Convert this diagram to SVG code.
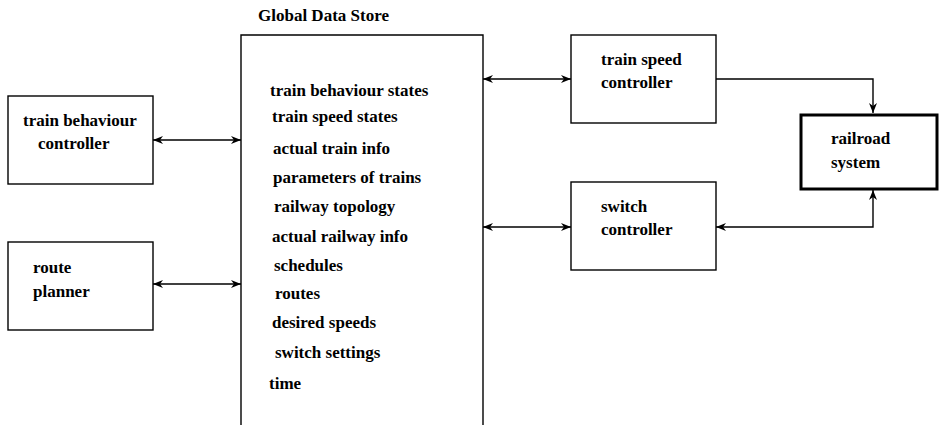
<svg xmlns="http://www.w3.org/2000/svg" width="939" height="425" viewBox="0 0 939 425">
<style>
text{font-family:"Liberation Serif","Times New Roman",serif;font-weight:bold;font-size:17px;fill:#000}
.box{fill:none;stroke:#000;stroke-width:1.4}
.thick{fill:none;stroke:#000;stroke-width:3}
.conn{fill:none;stroke:#000;stroke-width:1.4}
</style>
<defs>
<marker id="ah" viewBox="0 0 10 8" refX="10" refY="4" markerWidth="10" markerHeight="8" markerUnits="userSpaceOnUse" orient="auto-start-reverse">
<path d="M0,0 L10,4 L0,8 L3,4 Z" fill="#000"/>
</marker>
</defs>
<rect width="939" height="425" fill="#fff"/>
<g id="global-data-store">
<text x="258" y="21">Global Data Store</text>
<path class="box" d="M241,425 V35 H483 V425"/>
<text x="270" y="96">train behaviour states</text>
<text x="272" y="122">train speed states</text>
<text x="273" y="154">actual train info</text>
<text x="273" y="183">parameters of trains</text>
<text x="274" y="212">railway topology</text>
<text x="272" y="242">actual railway info</text>
<text x="274" y="271">schedules</text>
<text x="275" y="299">routes</text>
<text x="272" y="328">desired speeds</text>
<text x="275" y="358">switch settings</text>
<text x="269" y="389">time</text>
</g>
<g id="train-behaviour-controller">
<rect class="box" x="8" y="96" width="145" height="88"/>
<text x="23" y="126">train behaviour</text>
<text x="38" y="149">controller</text>
</g>
<g id="route-planner">
<rect class="box" x="8" y="242" width="145" height="88"/>
<text x="33" y="273">route</text>
<text x="33" y="297">planner</text>
</g>
<g id="train-speed-controller">
<rect class="box" x="571" y="35" width="145" height="88"/>
<text x="601" y="65">train speed</text>
<text x="601" y="88">controller</text>
</g>
<g id="switch-controller">
<rect class="box" x="571" y="182" width="145" height="88"/>
<text x="601" y="212">switch</text>
<text x="601" y="235">controller</text>
</g>
<g id="railroad-system">
<rect class="thick" x="801" y="115" width="136" height="74"/>
<text x="831" y="144">railroad</text>
<text x="831" y="168">system</text>
</g>
<g id="connectors">
<line class="conn" x1="153" y1="140" x2="241" y2="140" marker-start="url(#ah)" marker-end="url(#ah)"/>
<line class="conn" x1="153" y1="284" x2="241" y2="284" marker-start="url(#ah)" marker-end="url(#ah)"/>
<line class="conn" x1="483" y1="79" x2="571" y2="79" marker-start="url(#ah)" marker-end="url(#ah)"/>
<line class="conn" x1="483" y1="227" x2="571" y2="227" marker-start="url(#ah)" marker-end="url(#ah)"/>
<polyline class="conn" points="716,79 873,79 873,113" marker-end="url(#ah)"/>
<polyline class="conn" points="873,190 873,227 716,227" marker-start="url(#ah)" marker-end="url(#ah)"/>
</g>
</svg>
